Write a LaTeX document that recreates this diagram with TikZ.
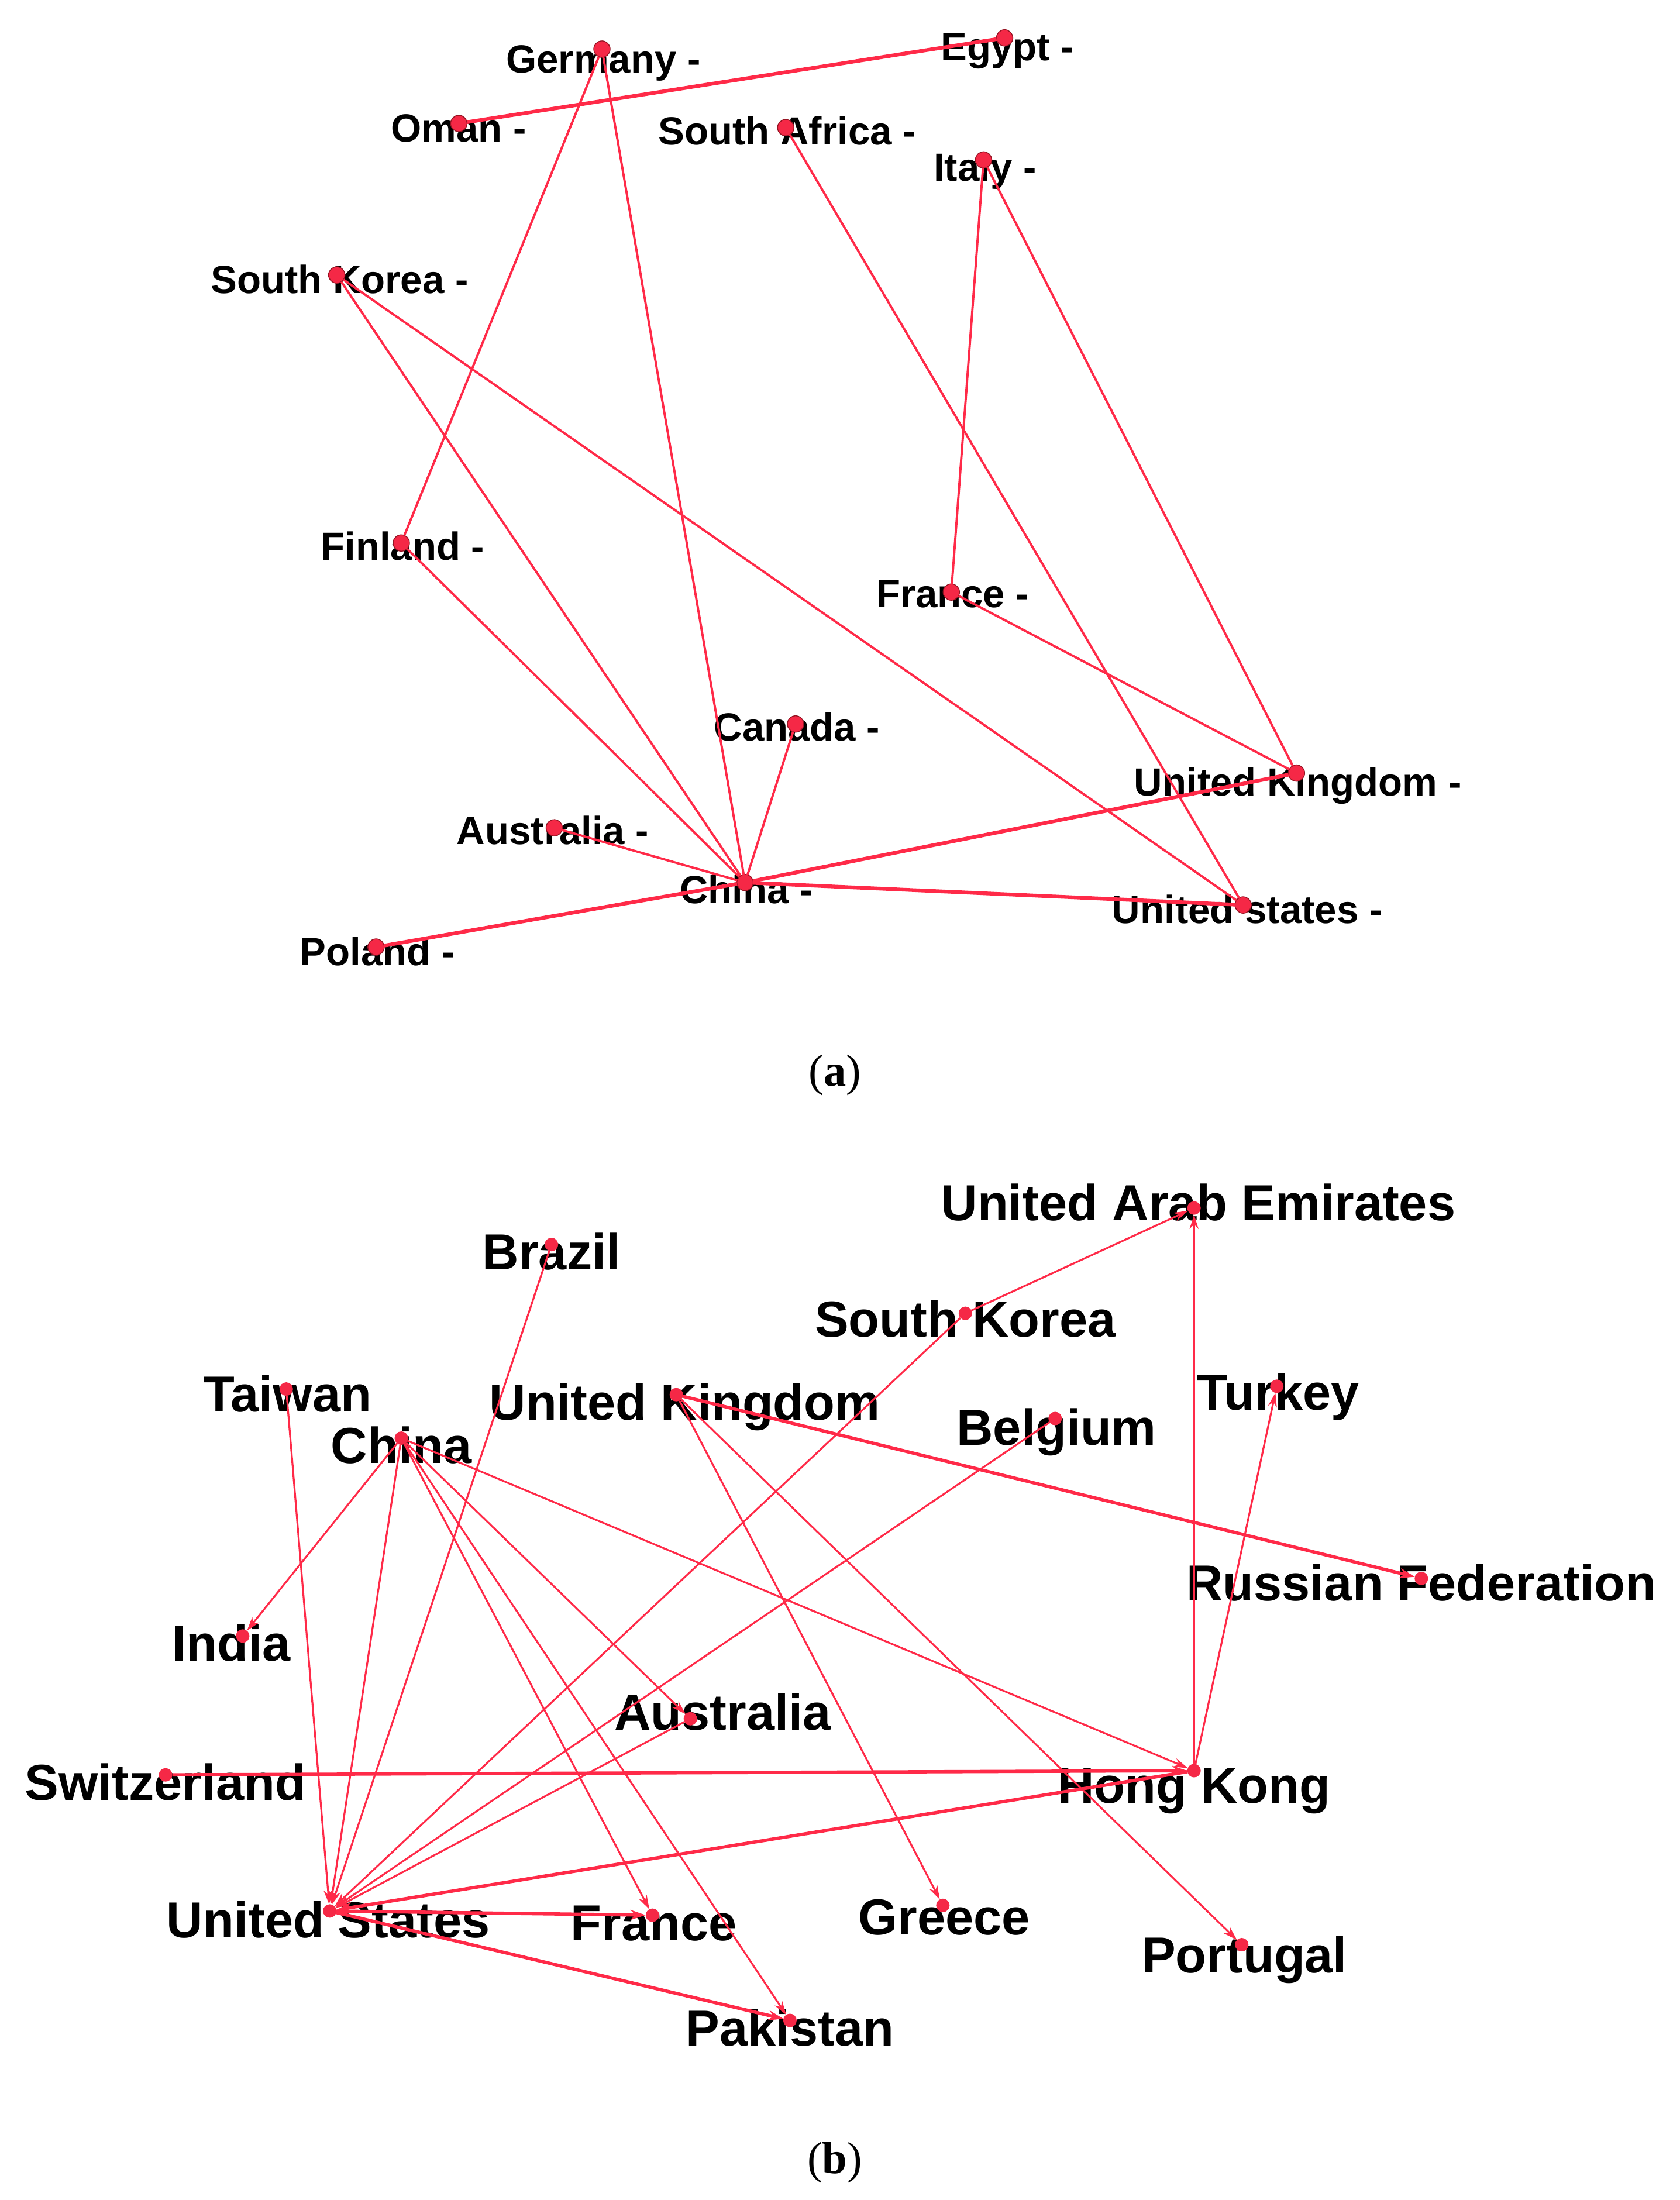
\documentclass[tikz,border=0pt]{standalone}
\usepackage{fontspec}
\setmainfont{Liberation Sans}
\newfontfamily\capfont{Liberation Serif}
\usetikzlibrary{arrows.meta}
\definecolor{edgered}{RGB}{255,42,72}
\definecolor{dotred}{RGB}{245,40,70}
\definecolor{dotedge}{RGB}{150,20,35}
\pgfdeclarelayer{bglayer}
\pgfdeclarelayer{textlayer}
\pgfsetlayers{bglayer,textlayer,main}
\begin{document}
\begin{tikzpicture}[x=0.023977cm,y=-0.023977cm,
  every node/.style={inner sep=0pt, outer sep=0pt},
  labA/.style={anchor=base, font=\fontsize{19.1}{22}\selectfont\bfseries},
  labB/.style={anchor=base, font=\fontsize{24.6}{28}\selectfont\bfseries},
  capt/.style={anchor=base, font=\fontsize{21.8}{26}\selectfont\capfont},
  dotA/.style={circle, minimum size=0.28cm, fill=dotred, draw=dotedge, line width=0.4pt},
  dotB/.style={circle, minimum size=0.23cm, fill=dotred},
  lnA/.style={draw=edgered, line width=1.1pt},
  lnAthick/.style={draw=edgered, line width=1.8pt},
  lnB/.style={draw=edgered, line width=0.9pt, -{Stealth[length=0.24cm,width=0.15cm]}},
  lnBthick/.style={draw=edgered, line width=1.6pt, -{Stealth[length=0.26cm,width=0.17cm]}}]
\begin{pgfonlayer}{bglayer}
\fill[white] (0,0) rectangle (1197,1568);
\end{pgfonlayer}
\useasboundingbox (0,0) rectangle (1197,1568);

% ---------------- panel (a) ----------------
\begin{pgfonlayer}{textlayer}
\node[labA] (lGermany) at (430,52) {Germany -};
\node[labA] (lEgypt) at (718,43) {Egypt -};
\node[labA] (lOman) at (327,101) {Oman -};
\node[labA] (lSAfrica) at (561,103) {South Africa -};
\node[labA] (lItaly) at (702,129) {Italy -};
\node[labA] (lSKorea) at (242,209) {South Korea -};
\node[labA] (lFinland) at (287,399) {Finland -};
\node[labA] (lFrance) at (679,433) {France -};
\node[labA] (lCanada) at (568,528) {Canada -};
\node[labA] (lUK) at (925,567) {United Kingdom -};
\node[labA] (lAustralia) at (394,602) {Australia -};
\node[labA] (lChina) at (532,644) {China -};
\node[labA] (lUS) at (889,658) {United states -};
\node[labA] (lPoland) at (269,688) {Poland -};
\node[capt] (captA) at (595,774) {(\textbf{a})};
\end{pgfonlayer}

\node[dotA] (aGermany) at (429,35) {};
\node[dotA] (aEgypt) at (716,27) {};
\node[dotA] (aOman) at (327,88) {};
\node[dotA] (aSAfrica) at (560,91) {};
\node[dotA] (aItaly) at (701,114) {};
\node[dotA] (aSKorea) at (240,196) {};
\node[dotA] (aFinland) at (286,387) {};
\node[dotA] (aFrance) at (678,422) {};
\node[dotA] (aCanada) at (567,516) {};
\node[dotA] (aUK) at (924,551) {};
\node[dotA] (aAustralia) at (395,590) {};
\node[dotA] (aChina) at (531,629) {};
\node[dotA] (aUS) at (886,645) {};
\node[dotA] (aPoland) at (268,675) {};

\draw[lnAthick] (aOman) -- (aEgypt);
\draw[lnA] (aGermany) -- (aFinland);
\draw[lnA] (aGermany) -- (aChina);
\draw[lnA] (aSAfrica) -- (aUS);
\draw[lnA] (aItaly) -- (aFrance);
\draw[lnA] (aItaly) -- (aUK);
\draw[lnA] (aSKorea) -- (aChina);
\draw[lnA] (aSKorea) -- (aUS);
\draw[lnA] (aFinland) -- (aChina);
\draw[lnA] (aFrance) -- (aUK);
\draw[lnA] (aCanada) -- (aChina);
\draw[lnA] (aAustralia) -- (aChina);
\draw[lnAthick] (aChina) -- (aUK);
\draw[lnAthick] (aChina) -- (aUS);
\draw[lnAthick] (aChina) -- (aPoland);

% ---------------- panel (b) ----------------
\begin{pgfonlayer}{textlayer}
\node[labB] (lbUAE) at (854,870) {United Arab Emirates};
\node[labB] (lbBrazil) at (393,905) {Brazil};
\node[labB] (lbSKorea) at (688,953) {South Korea};
\node[labB] (lbTaiwan) at (205,1006) {Taiwan};
\node[labB] (lbUK) at (488,1012) {United Kingdom};
\node[labB] (lbTurkey) at (911,1005) {Turkey};
\node[labB] (lbBelgium) at (753,1030) {Belgium};
\node[labB] (lbChina) at (286,1043) {China};
\node[labB] (lbRussia) at (1013,1141) {Russian Federation};
\node[labB] (lbIndia) at (165,1184) {India};
\node[labB] (lbAustralia) at (515,1233) {Australia};
\node[labB] (lbSwitz) at (118,1283) {Switzerland};
\node[labB] (lbHK) at (851,1285) {Hong Kong};
\node[labB] (lbUS) at (234,1381) {United States};
\node[labB] (lbFrance) at (466,1383) {France};
\node[labB] (lbGreece) at (673,1379) {Greece};
\node[labB] (lbPortugal) at (887,1406) {Portugal};
\node[labB] (lbPakistan) at (563,1458) {Pakistan};
\node[capt] (captB) at (595,1549) {(\textbf{b})};
\end{pgfonlayer}

\node[dotB] (bUAE) at (851,861) {};
\node[dotB] (bBrazil) at (393,887) {};
\node[dotB] (bSKorea) at (688,936) {};
\node[dotB] (bTaiwan) at (204,990) {};
\node[dotB] (bUK) at (482,994) {};
\node[dotB] (bTurkey) at (910,988) {};
\node[dotB] (bBelgium) at (752,1011) {};
\node[dotB] (bChina) at (286,1025) {};
\node[dotB] (bRussia) at (1013,1125) {};
\node[dotB] (bIndia) at (173,1166) {};
\node[dotB] (bAustralia) at (492,1225) {};
\node[dotB] (bSwitz) at (118,1265) {};
\node[dotB] (bHK) at (851,1262) {};
\node[dotB] (bUS) at (235,1362) {};
\node[dotB] (bFrance) at (465,1365) {};
\node[dotB] (bGreece) at (672,1358) {};
\node[dotB] (bPortugal) at (885,1386) {};
\node[dotB] (bPakistan) at (563,1440) {};

\draw[lnB] (bSKorea) -- (bUAE);
\draw[lnB] (bHK) -- (bUAE);
\draw[lnB] (bHK) -- (bTurkey);
\draw[lnBthick] (bUK) -- (bRussia);
\draw[lnB] (bUK) -- (bGreece);
\draw[lnB] (bUK) -- (bPortugal);
\draw[lnB] (bBelgium) -- (bUS);
\draw[lnB] (bBrazil) -- (bUS);
\draw[lnB] (bTaiwan) -- (bUS);
\draw[lnB] (bChina) -- (bUS);
\draw[lnB] (bChina) -- (bIndia);
\draw[lnB] (bChina) -- (bAustralia);
\draw[lnB] (bChina) -- (bHK);
\draw[lnB] (bChina) -- (bFrance);
\draw[lnB] (bChina) -- (bPakistan);
\draw[lnBthick] (bSwitz) -- (bHK);
\draw[lnBthick] (bHK) -- (bUS);
\draw[lnB] (bAustralia) -- (bUS);
\draw[lnBthick] (bUS) -- (bFrance);
\draw[lnBthick] (bUS) -- (bPakistan);
\draw[lnB] (bSKorea) -- (bUS);
\end{tikzpicture}
\end{document}
